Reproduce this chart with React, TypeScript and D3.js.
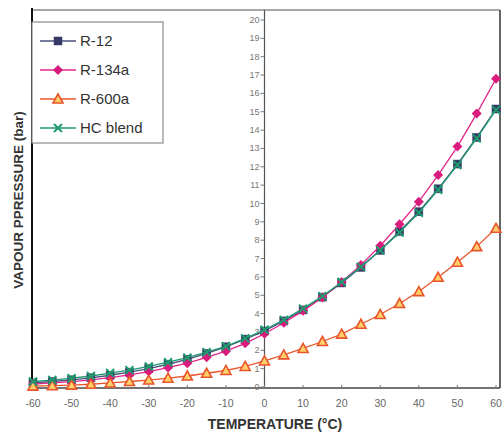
import React from 'react';
import * as d3 from 'd3';

const temps = [-60, -55, -50, -45, -40, -35, -30, -25, -20, -15, -10, -5, 0, 5, 10, 15, 20, 25, 30, 35, 40, 45, 50, 55, 60];
const r12 = [0.22, 0.3, 0.39, 0.5, 0.64, 0.81, 1.0, 1.24, 1.51, 1.83, 2.19, 2.61, 3.05, 3.6, 4.2, 4.9, 5.67, 6.52, 7.45, 8.47, 9.55, 10.8, 12.15, 13.6, 15.15];
const r134a = [0.16, 0.22, 0.29, 0.39, 0.51, 0.66, 0.84, 1.06, 1.3, 1.62, 1.95, 2.38, 2.9, 3.5, 4.15, 4.88, 5.72, 6.65, 7.7, 8.87, 10.1, 11.55, 13.1, 14.9, 16.8];
const r600a = [0.05, 0.07, 0.1, 0.15, 0.22, 0.3, 0.38, 0.48, 0.6, 0.75, 0.9, 1.12, 1.42, 1.75, 2.1, 2.48, 2.88, 3.42, 3.95, 4.55, 5.2, 5.98, 6.8, 7.65, 8.65];
const hcBlend = [0.3, 0.38, 0.48, 0.6, 0.76, 0.92, 1.12, 1.35, 1.6, 1.9, 2.22, 2.65, 3.12, 3.66, 4.27, 4.95, 5.72, 6.55, 7.45, 8.42, 9.5, 10.75, 12.1, 13.55, 15.1];

const xTicks = [-60, -50, -40, -30, -20, -10, 0, 10, 20, 30, 40, 50, 60];
const yTicks = d3.range(0, 21);

const series = [
  { name: 'R-12', values: r12, color: '#4a4f7e', marker: 'square', mfill: '#343a68' },
  { name: 'R-134a', values: r134a, color: '#e2268a', marker: 'diamond', mfill: '#d81b7d' },
  { name: 'R-600a', values: r600a, color: '#e8552a', marker: 'triangle', mfill: '#ffcf6a' },
  { name: 'HC blend', values: hcBlend, color: '#1f9a6e', marker: 'cross', mfill: '#1f9a6e' },
];

const Marker = ({ type, x, y, color, fill }) => {
  if (type === 'square') {
    return <rect x={x - 4} y={y - 4} width={8} height={8} fill={fill} stroke={fill} strokeWidth={0.5} />;
  }
  if (type === 'diamond') {
    return <path d={`M${x},${y - 5}L${x + 5},${y}L${x},${y + 5}L${x - 5},${y}Z`} fill={fill} />;
  }
  if (type === 'triangle') {
    return (
      <path
        d={`M${x},${y - 5}L${x + 5},${y + 4}L${x - 5},${y + 4}Z`}
        fill={fill}
        stroke={color}
        strokeWidth={1.6}
      />
    );
  }
  return (
    <path
      d={`M${x - 4},${y - 4}L${x + 4},${y + 4}M${x - 4},${y + 4}L${x + 4},${y - 4}`}
      stroke={color}
      strokeWidth={2}
    />
  );
};

const App = () => {
  const x = d3.scaleLinear().domain([-60, 60]).range([33, 496]);
  const y = d3.scaleLinear().domain([0, 20]).range([387, 20]);
  const left = 32;
  const right = 500;
  const top = 10;
  const bottom = 388;

  const line = d3
    .line<number>()
    .x((d, i) => x(temps[i]))
    .y((d) => y(d));

  return (
    <svg
      width={502}
      height={434}
      style={{ position: 'absolute', left: 0, top: 0, background: '#fff' }}
      fontFamily="Arial, 'Liberation Sans', sans-serif"
    >
      {/* frame */}
      <line x1={left} y1={top} x2={right} y2={top} stroke="#8a8a8a" strokeWidth={1.5} />
      <line x1={right} y1={top} x2={right} y2={bottom} stroke="#333" strokeWidth={1.5} />
      <line x1={left} y1={bottom} x2={right} y2={bottom} stroke="#444" strokeWidth={1.5} />
      <line x1={left} y1={top - 2} x2={left} y2={bottom + 1} stroke="#111" strokeWidth={2} />

      {/* center y axis */}
      <line x1={x(0)} y1={top} x2={x(0)} y2={bottom} stroke="#555" strokeWidth={1.2} />
      {yTicks.map((t) => (
        <g key={t}>
          <line x1={x(0) - 4} y1={y(t)} x2={x(0)} y2={y(t)} stroke="#777" strokeWidth={1} />
          <text x={x(0) - 5} y={y(t) + 3} textAnchor="end" fontSize={9} fill="#777">
            {t}
          </text>
        </g>
      ))}

      {/* x ticks */}
      {xTicks.map((t) => (
        <g key={t}>
          <line x1={x(t)} y1={bottom - 3} x2={x(t)} y2={bottom} stroke="#777" strokeWidth={1} />
          <text x={x(t)} y={407} textAnchor="middle" fontSize={10.5} fill="#666">
            {t < 0 ? `-${Math.abs(t)}` : t}
          </text>
        </g>
      ))}

      {/* series */}
      {series.map((s) => (
        <g key={s.name}>
          <path d={line(s.values) || ''} fill="none" stroke={s.color} strokeWidth={1.3} />
          {s.values.map((v, i) => (
            <Marker key={i} type={s.marker} x={x(temps[i])} y={y(v)} color={s.color} fill={s.mfill} />
          ))}
        </g>
      ))}

      {/* legend */}
      <rect x={left} y={22} width={131} height={121} fill="#fff" stroke="#8a8a8a" strokeWidth={1.2} />
      {series.map((s, i) => {
        const ly = 41 + i * 29;
        return (
          <g key={s.name}>
            <line x1={40} y1={ly} x2={76} y2={ly} stroke={s.color} strokeWidth={1.3} />
            <Marker type={s.marker} x={58} y={ly} color={s.color} fill={s.mfill} />
            <text x={80} y={ly + 5} fontSize={15} fill="#333">
              {s.name}
            </text>
          </g>
        );
      })}

      {/* axis titles */}
      <text
        x={275}
        y={429}
        textAnchor="middle"
        fontSize={14}
        fontWeight="bold"
        fill="#333"
      >
        TEMPERATURE (°C)
      </text>
      <text
        transform="translate(23,200) rotate(-90)"
        textAnchor="middle"
        fontSize={13.5}
        fontWeight="bold"
        fill="#333"
      >
        VAPOUR PPRESSURE (bar)
      </text>
    </svg>
  );
};

export default App;
